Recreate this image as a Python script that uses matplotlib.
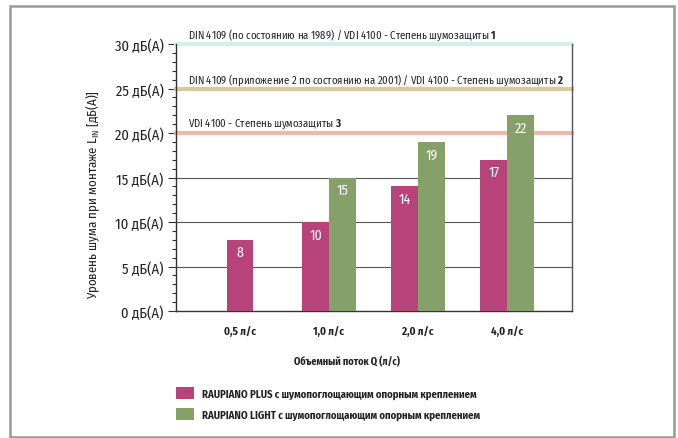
import numpy as np
import matplotlib.pyplot as plt
from matplotlib.patches import Rectangle, Patch

FONT = "Fira Sans Condensed"
plt.rcParams['font.family'] = [FONT, 'DejaVu Sans']
plt.rcParams['mathtext.fontset'] = 'custom'
plt.rcParams['mathtext.rm'] = FONT
plt.rcParams['mathtext.bf'] = FONT + ':bold'

# data
categories = ["0,5 л/с", "1,0 л/с", "2,0 л/с", "4,0 л/с"]
plus_values = [8, 10, 14, 17]
light_values = [None, 15, 19, 22]
series_names = [
    "RAUPIANO PLUS с шумопоглощающим опорным креплением",
    "RAUPIANO LIGHT с шумопоглощающим опорным креплением",
]
ref_levels = [30, 25, 20]
ref_texts = [
    r"DIN 4109 (по состоянию на 1989) / VDI 4100 - Степень шумозащиты $\mathbf{1}$",
    r"DIN 4109 (приложение 2 по состоянию на 2001) / VDI 4100 - Степень шумозащиты $\mathbf{2}$",
    r"VDI 4100 - Степень шумозащиты $\mathbf{3}$",
]
ref_colors = ["#d3efe8", "#d9ca98", "#edb9aa"]
y_ticks = [0, 5, 10, 15, 20, 25, 30]

pink = "#b8437a"
green = "#86a06a"

fig = plt.figure(figsize=(6.78, 4.39), dpi=100)
ax = fig.add_axes([176 / 678, 1 - 312 / 439, 396 / 678, 267 / 439])

# outer frame
fig.patches.append(Rectangle((10 / 678, 1 - 438 / 439), 664 / 678, 431 / 439,
                             transform=fig.transFigure, fill=False,
                             edgecolor="#999999", lw=1.8))

x = np.arange(len(categories))
w = 0.30
for i, (p, g) in enumerate(zip(plus_values, light_values)):
    if g is None:
        xp = x[i]
    else:
        xp = x[i] - w / 2
        ax.bar(x[i] + w / 2, g, w, color=green, zorder=3)
        ax.annotate(str(g), (x[i] + w / 2, g), xytext=(0, -9),
                    textcoords="offset points", ha="center", va="center",
                    color="white", fontsize=10, zorder=4)
    ax.bar(xp, p, w, color=pink, zorder=3)
    ax.annotate(str(p), (xp, p), xytext=(0, -9), textcoords="offset points",
                ha="center", va="center", color="white", fontsize=10, zorder=4)

# grid lines
for v in [5, 10, 15]:
    ax.axhline(v, color="#555555", lw=0.8, zorder=1)

# reference levels
for lvl, txt, col in zip(ref_levels, ref_texts, ref_colors):
    ax.axhline(lvl, color=col, lw=3, zorder=2, clip_on=False)
    ax.annotate(txt, (-0.585, lvl), xytext=(0, 7), textcoords="offset points",
                ha="left", va="center", fontsize=7.7, color="#222222")

ax.set_xlim(-0.72, 3.73)
ax.set_ylim(0, 30)
ax.set_xticks(x)
ax.set_xticklabels(categories, fontsize=8, fontweight="bold", color="#222222")
ax.tick_params(axis="x", length=0, pad=10)
ax.set_yticks(y_ticks)
ax.set_yticklabels([f"{v} дБ(А)" for v in y_ticks], fontsize=10.5, color="#222222")
ax.set_yticks(np.arange(0, 31, 1), minor=True)
ax.tick_params(axis="y", which="major", length=6, width=0.8, color="#333333", pad=3)
ax.tick_params(axis="y", which="minor", length=3, width=0.8, color="#333333")

ax.spines["top"].set_visible(False)
ax.spines["left"].set_color("#333333")
ax.spines["bottom"].set_color("#333333")
ax.spines["right"].set_color("#555555")
for s in ["left", "bottom", "right"]:
    ax.spines[s].set_linewidth(1.0)

fig.text(93 / 678, 1 - 195 / 439, r"Уровень шума при монтаже L$_{\mathrm{IN}}$ [дБ(А)]",
         rotation=90, ha="center", va="center", fontsize=9.3, color="#222222")
fig.text(347 / 678, 1 - 362 / 439, "Объемный поток Q (л/с)", ha="center",
         va="center", fontsize=7.4, fontweight="bold", color="#222222")

handles = [Patch(facecolor=pink, edgecolor="none"),
           Patch(facecolor=green, edgecolor="none")]
leg = fig.legend(handles, series_names, loc="upper left",
                 bbox_to_anchor=(172 / 678, 1 - 384 / 439), frameon=False,
                 prop={"size": 7.7, "weight": "bold"},
                 handlelength=1.7, handleheight=1.3, labelspacing=0.85,
                 handletextpad=0.75, borderaxespad=0)
for t in leg.get_texts():
    t.set_color("#222222")

fig.savefig("out.png", dpi=100)
